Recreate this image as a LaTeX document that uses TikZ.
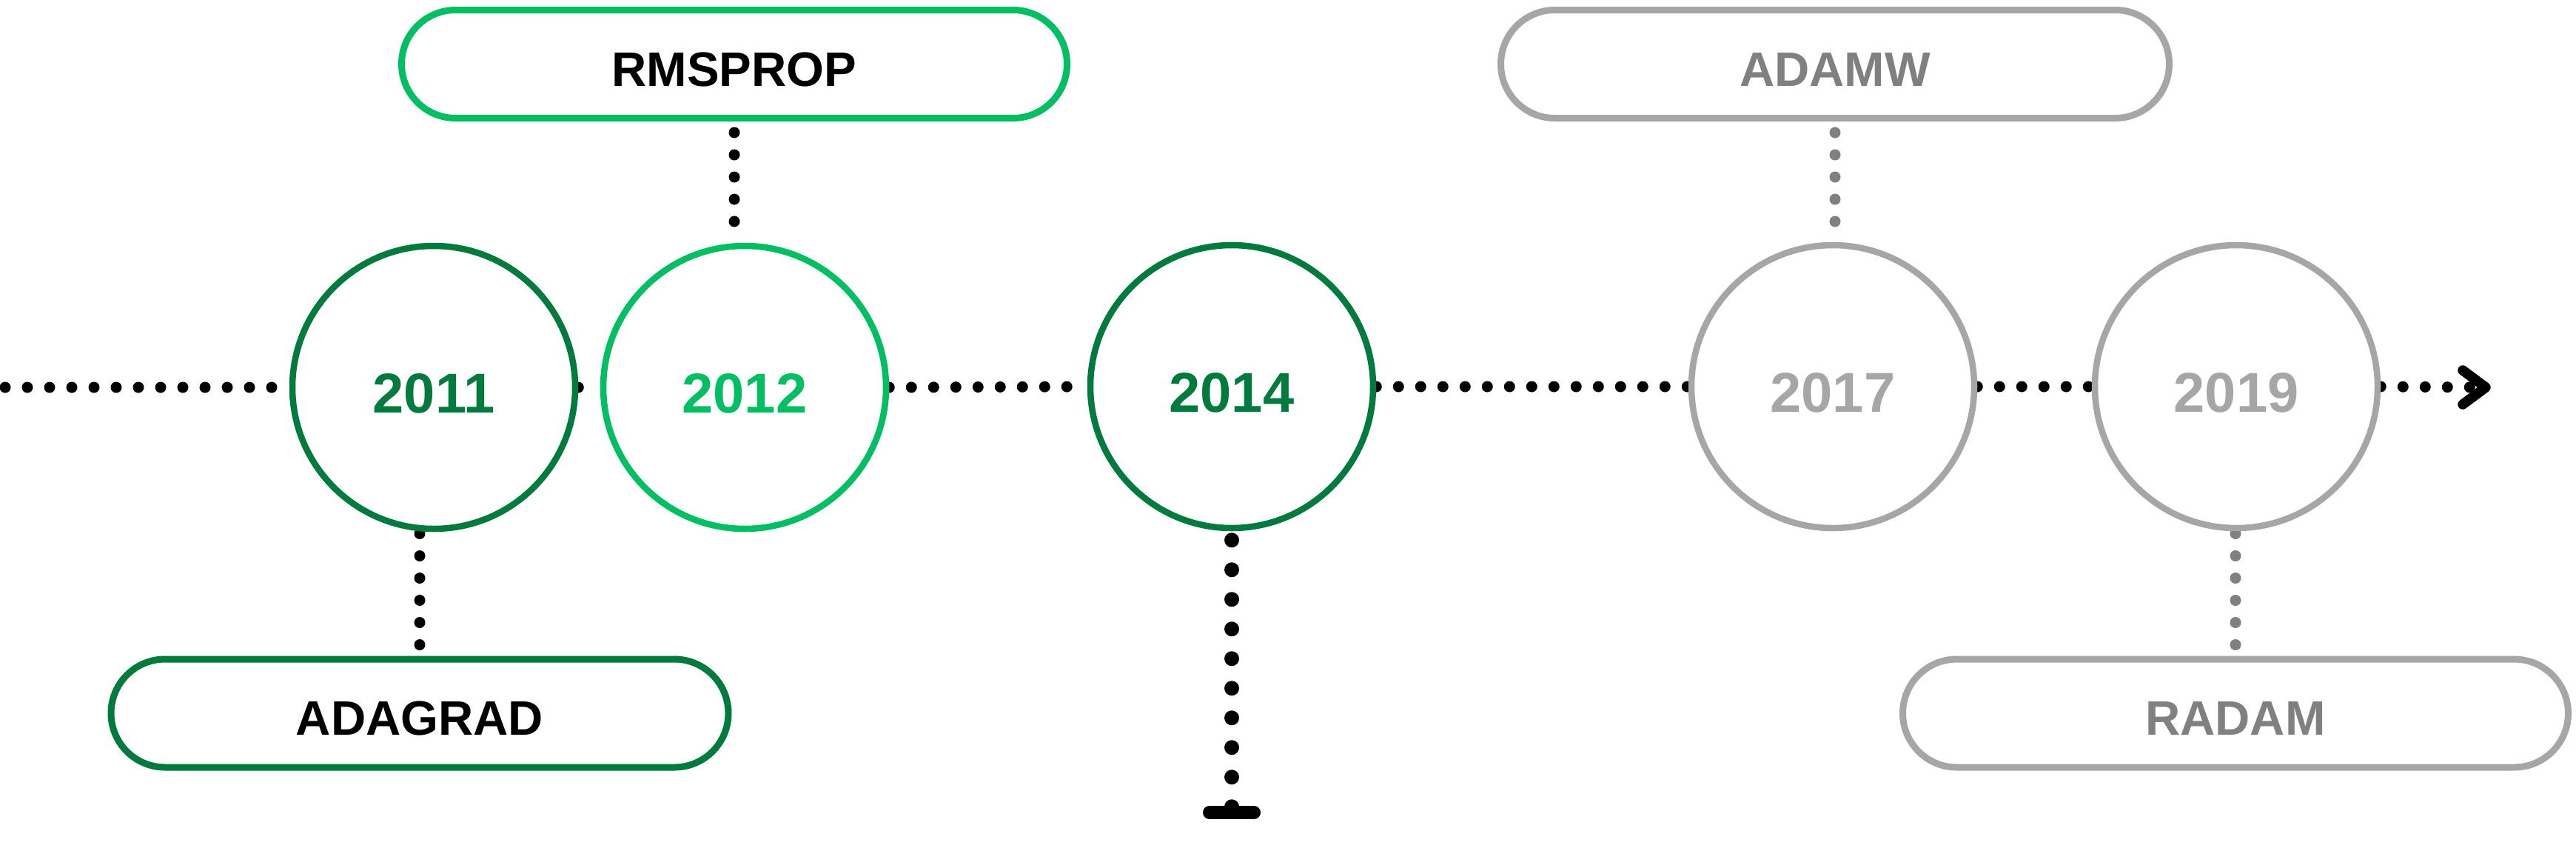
\documentclass[tikz,border=0pt]{standalone}
\usepackage{fontspec}
\setmainfont{Liberation Sans}
\usetikzlibrary{backgrounds}
\definecolor{dgreen}{HTML}{007A3D}
\definecolor{lgreen}{HTML}{00BF63}
\definecolor{gborder}{HTML}{A6A6A6}
\definecolor{gtext}{HTML}{808080}
\begin{document}
\begin{tikzpicture}[
  yearnode/.style={circle, draw, line width=0.085cm, fill=white, minimum size=3.82cm, inner sep=0pt,
    font=\fontsize{21.6pt}{26pt}\selectfont\bfseries, text height=0.685cm, text depth=0cm},
  optbox/.style={rectangle, rounded corners=0.73cm, draw, line width=0.09cm, fill=white,
    minimum height=1.46cm, inner sep=0pt, font=\fontsize{18.6pt}{22pt}\selectfont\bfseries,
    text height=0.59cm, text depth=0cm},
  tl/.style={line width=0.15cm, line cap=round, dash pattern=on 0pt off 0.3cm},
]
\useasboundingbox (0,0) rectangle (34.8,-11.48);

% year circles
\node[yearnode, draw=dgreen, text=dgreen] (c2011) at (5.86,-5.23) {2011};
\node[yearnode, draw=lgreen, text=lgreen] (c2012) at (10.06,-5.23) {2012};
\node[yearnode, draw=dgreen, text=dgreen] (c2014) at (16.64,-5.22) {2014};
\node[yearnode, draw=gborder, text=gborder] (c2017) at (24.76,-5.22) {2017};
\node[yearnode, draw=gborder, text=gborder] (c2019) at (30.21,-5.22) {2019};

% optimizer boxes
\node[optbox, draw=lgreen, minimum width=8.99cm] (rms) at (9.92,-0.865) {RMSPROP};
\node[optbox, draw=gborder, text=gtext, minimum width=9.03cm] (adamw) at (24.79,-0.865) {ADAMW};
\node[optbox, draw=dgreen, minimum width=8.34cm] (adagrad) at (5.67,-9.63) {ADAGRAD};
\node[optbox, draw=gborder, text=gtext, minimum width=8.99cm] (radam) at (30.20,-9.63) {RADAM};

\coordinate (start) at (0.07,-5.23);
\coordinate (tip) at (33.58,-5.23);
\coordinate (end14) at (16.64,-10.97);

\begin{scope}[on background layer]
  \fill[white] (0,0) rectangle (34.8,-11.48);
  % timeline
  \draw[tl] (start) -- (c2011.west);
  \draw[tl] (c2011.east) -- (c2012.west);
  \draw[tl] (c2012.east) -- (c2014.west);
  \draw[tl] (c2014.east) -- (c2017.west);
  \draw[tl] (c2017.east) -- (c2019.west);
  \draw[tl] (c2019.east) -- (tip);
  % vertical connectors
  \draw[tl, dash phase=0.15cm] (rms.south) -- (rms.south |- c2012.north);
  \draw[tl, dash phase=0.15cm] (adagrad.north) -- (adagrad.north |- c2011.south);
  \draw[tl, gtext, dash phase=0.15cm] (adamw.south) -- (adamw.south |- c2017.north);
  \draw[tl, gtext, dash phase=0.15cm] (radam.north) -- (radam.north |- c2019.south);
\end{scope}

% 2014 drop line
\draw[line width=0.2cm, line cap=round, dash pattern=on 0pt off 0.4cm, dash phase=0.28cm]
  (c2014.south) -- (end14);
\draw[line width=0.18cm, line cap=round] ([xshift=-0.3cm]end14) -- ([xshift=0.3cm]end14);

% arrow chevron
\draw[line width=0.135cm, line cap=round, line join=round]
  ([xshift=-0.31cm,yshift=0.23cm]tip) -- (tip) -- ([xshift=-0.31cm,yshift=-0.23cm]tip);
\end{tikzpicture}
\end{document}
